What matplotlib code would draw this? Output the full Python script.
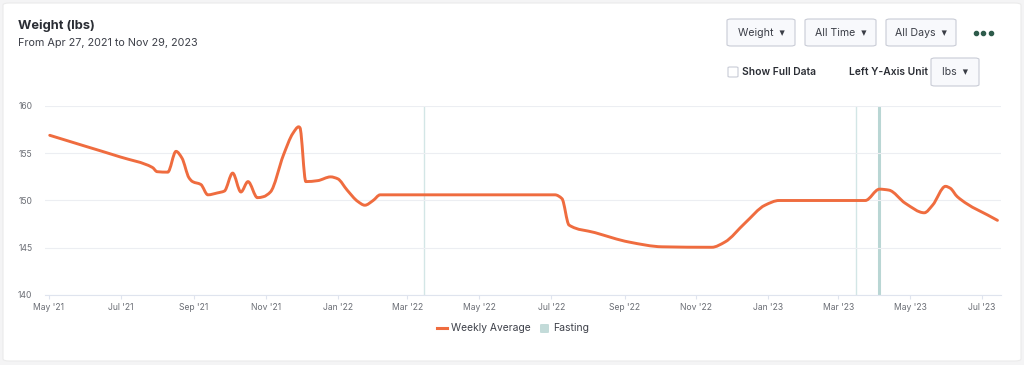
import matplotlib
matplotlib.use("Agg")
import matplotlib.pyplot as plt
import matplotlib.dates as mdates
from matplotlib.patches import FancyBboxPatch, PathPatch
from matplotlib.path import Path
from matplotlib.lines import Line2D
import numpy as np
import pandas as pd

plt.rcParams['font.family'] = ['Inter', 'DejaVu Sans']

# ---- data ----
dates = ["2021-05-02", "2021-06-01", "2021-07-01", "2021-07-28", "2021-08-01", "2021-08-10",
         "2021-08-17", "2021-08-22",
         "2021-08-28", "2021-08-31", "2021-09-07", "2021-09-13", "2021-09-21", "2021-09-27",
         "2021-10-04", "2021-10-11", "2021-10-17", "2021-10-25", "2021-10-30", "2021-11-05",
         "2021-11-16", "2021-11-24", "2021-11-29", "2021-11-30", "2021-12-05", "2021-12-15",
         "2021-12-26", "2022-01-01", "2022-01-09", "2022-01-18", "2022-01-24", "2022-01-31",
         "2022-02-06", "2022-07-04", "2022-07-10", "2022-07-16", "2022-08-07", "2022-09-05",
         "2022-10-03", "2022-11-14", "2022-11-25", "2022-12-12", "2022-12-29", "2023-01-10",
         "2023-03-24", "2023-04-05", "2023-04-13", "2023-04-27", "2023-05-13", "2023-05-20",
         "2023-05-31", "2023-06-04", "2023-06-10", "2023-07-14"]
weekly_avg = [156.9, 155.75, 154.6, 153.5, 153.05, 153.0,
              155.2, 154.5,
              152.4, 152.0, 151.7, 150.6, 150.8, 151.0,
              152.9, 150.9, 152.0, 150.3, 150.4, 150.9,
              154.8, 157.1, 157.8, 157.7, 152.0, 152.1,
              152.5, 152.3, 151.1, 149.9, 149.5, 150.0,
              150.6, 150.6, 150.2, 147.4, 146.6, 145.6,
              145.1, 145.05, 145.6, 147.6, 149.5, 150.0,
              150.0, 151.2, 151.1, 149.7, 148.7, 149.5,
              151.5, 151.3, 150.4, 147.9]
fasting_dates = ["2022-03-15", "2023-03-16", "2023-04-05"]
fasting_widths = [1.0, 1.0, 2.2]
fasting_colors = ["#d3e6e6", "#d3e6e6", "#b9d6d4"]
tick_dates = ["2021-05-01", "2021-07-01", "2021-09-01", "2021-11-01", "2022-01-01", "2022-03-01",
              "2022-05-01", "2022-07-01", "2022-09-01", "2022-11-01", "2023-01-01", "2023-03-01",
              "2023-05-01", "2023-07-01"]
tick_labels = ["May '21", "Jul '21", "Sep '21", "Nov '21", "Jan '22", "Mar '22", "May '22",
               "Jul '22", "Sep '22", "Nov '22", "Jan '23", "Mar '23", "May '23", "Jul '23"]
y_ticks = [140, 145, 150, 155, 160]

W, H = 1024, 365
fig = plt.figure(figsize=(W / 100, H / 100), dpi=100)
fig.patch.set_facecolor("#f4f4f5")

def fx(px):
    return px / W

def fy(py):
    return 1 - py / H

# card
card = FancyBboxPatch((fx(3), fy(361)), fx(1018), (358) / H,
                      boxstyle="round,pad=0,rounding_size=0.006",
                      transform=fig.transFigure, facecolor="white", edgecolor="#ebebeb",
                      linewidth=0.8, zorder=-5)
fig.patches.append(card)

# titles
fig.text(fx(18), fy(26), "Weight (lbs)", fontsize=9.3, fontweight="bold", color="#2a2d34",
         va="center", ha="left")
fig.text(fx(18), fy(43), "From Apr 27, 2021 to Nov 29, 2023", fontsize=7.8, color="#3d4049",
         va="center", ha="left")

# buttons
def button(x0, x1, y0, y1, label):
    b = FancyBboxPatch((fx(x0), fy(y1)), fx(x1 - x0), (y1 - y0) / H,
                       boxstyle="round,pad=0,rounding_size=0.004",
                       transform=fig.transFigure, facecolor="#f8f9fc", edgecolor="#c9ccd6",
                       linewidth=0.8)
    fig.patches.append(b)
    fig.text(fx((x0 + x1) / 2), fy((y0 + y1) / 2), label + "  \u25be", fontsize=7.6,
             color="#3a3d46", ha="center", va="center", family=["Inter", "DejaVu Sans"])

button(727, 795, 19, 46, "Weight")
button(805, 876, 19, 46, "All Time")
button(886, 956, 19, 46, "All Days")
button(931, 979, 58, 86, "lbs")
fig.lines.append(Line2D([fx(975.5), fx(983), fx(990.5)], [fy(33)] * 3, transform=fig.transFigure,
                        linestyle="none", marker="o", markersize=3.0, color="#2e5b4b"))

# checkbox
cb = FancyBboxPatch((fx(728), fy(77)), fx(10), 10 / H, boxstyle="round,pad=0,rounding_size=0.002",
                    transform=fig.transFigure, facecolor="white", edgecolor="#c9ccd6", linewidth=0.8)
fig.patches.append(cb)
fig.text(fx(742), fy(72), "Show Full Data", fontsize=7.4, fontweight="semibold", color="#2a2d34",
         ha="left", va="center")
fig.text(fx(849), fy(72), "Left Y-Axis Unit", fontsize=7.4, fontweight="semibold", color="#2a2d34",
         ha="left", va="center")

# axes
ax = fig.add_axes([fx(45), fy(295), fx(1001 - 45), (295 - 106) / H])
ax.set_zorder(5)
ax.set_facecolor("none")
ax.xaxis_date()
ax.set_xlim(pd.Timestamp("2021-04-28"), pd.Timestamp("2023-07-17"))
ax.set_ylim(140, 160)

for d, w, c in zip(fasting_dates, fasting_widths, fasting_colors):
    ax.axvline(pd.Timestamp(d), color=c, linewidth=w, zorder=1)

# smooth (monotone cubic) rendering of the series, drawn in data coordinates
xs = mdates.date2num(pd.to_datetime(dates).to_pydatetime())
ys = np.asarray(weekly_avg, dtype=float)
h = np.diff(xs)
delta = np.diff(ys) / h
m = np.zeros_like(ys)
m[0], m[-1] = delta[0], delta[-1]
for i in range(1, len(ys) - 1):
    if delta[i - 1] * delta[i] <= 0:
        m[i] = 0.0
    else:
        w1 = 2 * h[i] + h[i - 1]
        w2 = h[i] + 2 * h[i - 1]
        m[i] = (w1 + w2) / (w1 / delta[i - 1] + w2 / delta[i])
verts = [(xs[0], ys[0])]
codes = [Path.MOVETO]
for i in range(len(xs) - 1):
    verts += [(xs[i] + h[i] / 3, ys[i] + m[i] * h[i] / 3),
              (xs[i + 1] - h[i] / 3, ys[i + 1] - m[i + 1] * h[i] / 3),
              (xs[i + 1], ys[i + 1])]
    codes += [Path.CURVE4] * 3
ax.add_patch(PathPatch(Path(verts, codes), facecolor="none", edgecolor="#ef6c3f",
                       linewidth=2.1, capstyle="round", joinstyle="round", zorder=3))

ax.set_yticks(y_ticks)
ax.set_yticklabels([str(v) for v in y_ticks])
ax.set_xticks(mdates.date2num(pd.to_datetime(tick_dates).to_pydatetime()))
ax.set_xticklabels(tick_labels)
ax.grid(axis="y", color="#eceef2", linewidth=0.8, zorder=0)
ax.grid(axis="x", visible=False)
for s in ["top", "right", "left"]:
    ax.spines[s].set_visible(False)
ax.spines["bottom"].set_color("#dfe4ee")
ax.spines["bottom"].set_linewidth(0.8)
ax.tick_params(axis="y", length=0, labelsize=6.2, labelcolor="#6b6e75", pad=9)
ax.tick_params(axis="x", length=3, color="#dfe4ee", labelsize=6.2, labelcolor="#6b6e75", pad=3)

# legend
fig.lines.append(Line2D([fx(437), fx(447)], [fy(328), fy(328)], transform=fig.transFigure,
                        color="#ef6c3f", linewidth=2.2))
fig.text(fx(451), fy(328), "Weekly Average", fontsize=7.4, color="#3d4049", ha="left", va="center")
sq = FancyBboxPatch((fx(540), fy(333)), fx(9), 9 / H, boxstyle="round,pad=0,rounding_size=0.002",
                    transform=fig.transFigure, facecolor="#c3dbd9", edgecolor="none")
fig.patches.append(sq)
fig.text(fx(553), fy(328), "Fasting", fontsize=7.5, color="#3d4049", ha="left", va="center")

fig.savefig("out.png", dpi=100, facecolor=fig.get_facecolor())
